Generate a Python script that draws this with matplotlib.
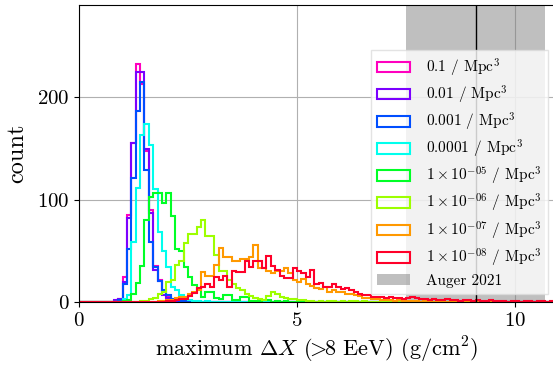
import matplotlib
matplotlib.use("Agg")
import matplotlib.pyplot as plt
import numpy as np

plt.rcParams["font.family"] = "serif"
plt.rcParams["font.serif"] = ["cmr10"]
plt.rcParams["mathtext.fontset"] = "cm"
plt.rcParams["axes.formatter.use_mathtext"] = True

# Histogram bins (g/cm^2), width 0.1
bin_edges = np.round(np.arange(0, 11.05, 0.1), 2)
n_bins = len(bin_edges) - 1

density_labels = [
    "0.1 / Mpc$^3$",
    "0.01 / Mpc$^3$",
    "0.001 / Mpc$^3$",
    "0.0001 / Mpc$^3$",
    r"$1\times10^{-05}$ / Mpc$^3$",
    r"$1\times10^{-06}$ / Mpc$^3$",
    r"$1\times10^{-07}$ / Mpc$^3$",
    r"$1\times10^{-08}$ / Mpc$^3$",
]

# counts per bin, each list starts at the given bin index
start_1e1, counts_1e1 = 8, [1, 3, 25, 85, 155, 233, 213, 148, 90, 35, 22, 10, 5, 2, 1, 1]
start_1e2, counts_1e2 = 8, [2, 3, 20, 82, 155, 225, 225, 150, 87, 31, 21, 7, 4, 2, 1, 1]
start_1e3, counts_1e3 = 9, [2, 18, 52, 121, 187, 215, 129, 59, 34, 21, 12, 7, 3, 2, 1, 1]
start_1e4, counts_1e4 = 10, [3, 7, 59, 111, 163, 174, 153, 110, 68, 50, 34, 15, 12, 7, 4, 2,
                             1, 1, 0, 1]
start_1e5, counts_1e5 = 10, [1, 2, 8, 19, 35, 80, 103, 107, 107, 97, 107, 84, 52, 50, 34, 25,
                             17, 13, 5, 10, 10, 4, 3, 7, 7, 2, 2, 5, 5, 1, 1, 1, 2, 2, 0, 1,
                             0, 1]
start_1e6, counts_1e6 = 14, [1, 1, 3, 4, 8, 10, 20, 22, 36, 40, 58, 67, 67, 73, 80, 65, 65, 46,
                             30, 30, 22, 18, 14, 12, 8, 6, 4, 3, 2, 6, 10, 8, 5, 4, 3, 3, 2, 2,
                             1, 1, 0, 1, 0, 1, 1, 0, 1, 0, 1, 1, 0, 1]
start_1e7, counts_1e7 = 18, [1, 1, 2, 2, 4, 5, 5, 8, 10, 12, 29, 26, 26, 36, 53, 44, 44, 40,
                             40, 42, 42, 44, 56, 33, 33, 30, 28, 30, 30, 33, 28, 22, 20, 23,
                             18, 16, 14, 13, 15, 10, 12, 10, 10, 8, 8, 7, 6, 4, 4, 3, 3, 2,
                             2, 2, 1, 2, 1, 1, 1, 1, 0, 1, 1, 0, 1, 0, 0, 1]
start_1e8, counts_1e8 = 20, [1, 1, 2, 3, 3, 6, 9, 14, 15, 18, 15, 25, 22, 26, 15, 30, 29, 29,
                             40, 34, 40, 40, 33, 45, 35, 31, 26, 24, 24, 33, 30, 28, 25, 31,
                             18, 19, 15, 15, 18, 15, 13, 14, 12, 10, 8, 7, 7, 5, 5, 5, 4, 5,
                             4, 4, 3, 4, 5, 4, 3, 3, 2, 3, 2, 2, 3, 2, 2, 1, 2, 2, 1, 2, 1,
                             1, 2, 1, 1, 1, 0, 1, 1, 0, 1, 1, 0, 1, 1, 0, 1, 1]

series = [
    (start_1e1, counts_1e1),
    (start_1e2, counts_1e2),
    (start_1e3, counts_1e3),
    (start_1e4, counts_1e4),
    (start_1e5, counts_1e5),
    (start_1e6, counts_1e6),
    (start_1e7, counts_1e7),
    (start_1e8, counts_1e8),
]

# Auger 2021 value and band (g/cm^2)
auger_value = 9.1
auger_low, auger_high = 7.5, 10.7


def full_counts(start, counts):
    arr = np.zeros(n_bins)
    arr[start:start + len(counts)] = counts
    return arr


fig = plt.figure(figsize=(5.53, 3.68), dpi=100)
ax = fig.add_axes([0.143, 0.179, 0.859, 0.807])

colors = plt.cm.gist_rainbow(np.linspace(1, 0, len(series)))
centers = 0.5 * (bin_edges[:-1] + bin_edges[1:])
for (start, counts), label, color in zip(series, density_labels, colors):
    ax.hist(centers, bins=bin_edges, weights=full_counts(start, counts),
            histtype="step", color=color, linewidth=1.5, label=label)

ax.axvspan(auger_low, auger_high, color="grey", alpha=0.5, linewidth=0,
           label="Auger 2021")
ax.axvline(auger_value, color="k", linewidth=1)

ax.set_xlim(0, 10.9)
ax.set_ylim(0, 290)
ax.set_xticks([0, 5, 10])
ax.set_yticks([0, 100, 200])
ax.grid(True, color="#b0b0b0", linewidth=0.8)
ax.set_axisbelow(True)
ax.tick_params(labelsize=15)
ax.set_xlabel(r"maximum $\Delta X$ ($\!\!>\!\!$8 EeV) (g/cm$^2$)", fontsize=16)
ax.set_ylabel("count", fontsize=17.5, labelpad=6)

ax.legend(loc="upper right", bbox_to_anchor=(0.987, 0.848), borderaxespad=0,
          fontsize=11, fancybox=False, framealpha=0.8, edgecolor="#dddddd",
          handlelength=2.15, handletextpad=1.05, labelspacing=0.33)

fig.savefig("out.png", dpi=100)
plt.close(fig)
